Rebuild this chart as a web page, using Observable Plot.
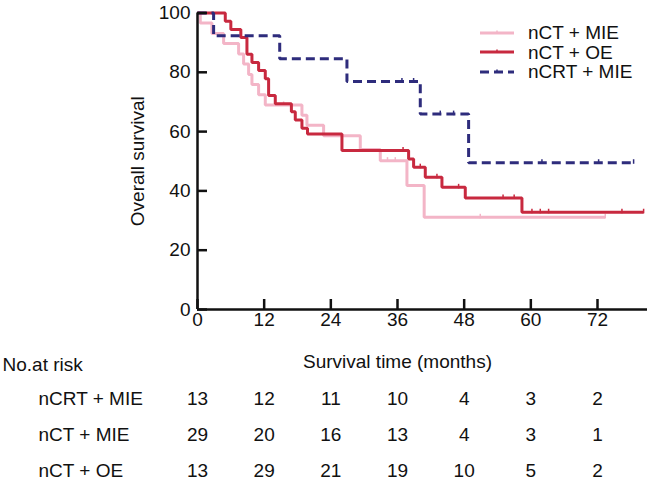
<!DOCTYPE html>
<html>
<head>
<meta charset="utf-8">
<script src="https://cdn.jsdelivr.net/npm/d3@7"></script>
<script src="https://cdn.jsdelivr.net/npm/@observablehq/plot@0.6"></script>
<style>
  html, body { margin: 0; padding: 0; background: #fff; }
  body { width: 647px; height: 485px; position: relative; overflow: hidden;
         font-family: "Liberation Sans", Arial, Helvetica, sans-serif; color: #111; }
  #legend { position: absolute; left: 480px; top: 23px; font-size: 19px; line-height: 19.5px; }
  #legend .row { display: flex; align-items: center; height: 19.5px; white-space: nowrap; }
  #legend svg { width: 34px; height: 10px; margin-right: 14px; }
  #chart svg, #table svg { display: block; }
</style>
</head>
<body>
<div id="chart"></div>
<div id="table"></div>
<div id="legend"></div>
<script>
// ---- data ----
const groups = ["nCRT + MIE", "nCT + MIE", "nCT + OE"];
const colors = ["#2e2c7c", "#f3b5c7", "#c8293f"];
const timeTicks = [0, 12, 24, 36, 48, 60, 72];
const survTicks = [0, 20, 40, 60, 80, 100];

// nCRT + MIE
const crtMieTimes = [0, 2.9, 14.8, 26.9, 40.1, 48.8, 78.5];
const crtMieSurv  = [100, 92.3, 84.6, 76.9, 65.9, 49.5, 49.5];
const crtMieCensor = [36.8, 38.9, 43.7, 46.1, 62.0, 72.2, 78.5];

// nCT + MIE
const ctMieTimes = [0, 0.5, 2.6, 4.7, 7.4, 8.3, 9.2, 9.8, 11.0, 12.2, 18.8, 19.7, 22.7, 29.3, 32.9, 37.7, 40.8, 73.4];
const ctMieSurv  = [100, 96.6, 93.1, 89.7, 86.2, 82.8, 79.3, 75.9, 72.4, 69.0, 65.5, 62.1, 58.6, 54.0, 50.2, 41.8, 31.1, 31.1];
const ctMieCensor = [15.5, 34.2, 35.6, 50.9, 73.4];

// nCT + OE
const ctOeTimes = [0, 5.0, 6.0, 7.8, 8.9, 9.8, 11.0, 12.2, 12.8, 14.0, 16.9, 17.6, 18.8, 19.8, 26.0, 38.0, 38.9, 41.0, 44.0, 48.2, 58.4, 80.3];
const ctOeSurv  = [100, 97.2, 94.4, 91.7, 86.1, 83.3, 80.6, 77.8, 72.2, 69.4, 66.7, 63.9, 61.1, 59.2, 53.6, 50.8, 48.0, 44.6, 41.2, 37.6, 32.8, 32.8];
const ctOeCensor = [37.0, 40.1, 43.1, 47.0, 55.0, 57.0, 60.2, 61.7, 63.2, 76.4, 80.3];

// number at risk
const riskCrtMie = [13, 12, 11, 10, 4, 3, 2];
const riskCtMie  = [29, 20, 16, 13, 4, 3, 1];
const riskCtOe   = [13, 29, 21, 19, 10, 5, 2];

// ---- build tables ----
function curve(group, times, surv) {
  return times.map((t, i) => ({group, time: t, surv: surv[i]}));
}
function stepAt(times, surv, t) {
  let v = surv[0];
  for (let i = 0; i < times.length; i++) if (times[i] <= t) v = surv[i];
  return v;
}
function censors(group, times, surv, cens) {
  return cens.map(t => ({group, time: t, surv: stepAt(times, surv, t)}));
}
const curves = [
  ["nCT + MIE", ctMieTimes, ctMieSurv, ctMieCensor],
  ["nCT + OE", ctOeTimes, ctOeSurv, ctOeCensor],
  ["nCRT + MIE", crtMieTimes, crtMieSurv, crtMieCensor]
];
const lineData = curves.map(([g, t, s]) => curve(g, t, s));
const censorData = curves.map(([g, t, s, c]) => censors(g, t, s, c));
const riskRows = [];
[riskCrtMie, riskCtMie, riskCtOe].forEach((arr, gi) =>
  arr.forEach((n, i) => riskRows.push({group: groups[gi], time: timeTicks[i], n})));

const colorOf = g => colors[groups.indexOf(g)];
const tickSymbol = {draw(ctx, size) { const r = Math.sqrt(size / Math.PI); ctx.moveTo(0, -r); ctx.lineTo(0, r * 0.3); }};

const font = '"Liberation Sans", Arial, Helvetica, sans-serif';
const xDomain = [0, 81];

const marks = [];
lineData.forEach((d, i) => {
  const g = d[0].group;
  marks.push(Plot.line(d, {x: "time", y: "surv", curve: "step-after", stroke: colorOf(g),
    strokeWidth: 3, strokeDasharray: g === "nCRT + MIE" ? "9,5" : null, strokeLinejoin: "miter", strokeLinecap: "butt"}));
  marks.push(Plot.dot(censorData[i], {x: "time", y: "surv", symbol: tickSymbol, r: 3.5, stroke: colorOf(g), strokeWidth: 1.5, fill: "none"}));
});

const chart = Plot.plot({
  width: 647, height: 340,
  marginLeft: 197, marginRight: 0, marginTop: 12.5, marginBottom: 31,
  style: {fontFamily: font, fontSize: "19px", color: "#111", background: "#fff"},
  x: {domain: xDomain},
  y: {domain: [0, 100]},
  marks: [
    ...marks,
    Plot.ruleY([0], {strokeWidth: 2.5}),
    Plot.ruleX([0], {strokeWidth: 2.5}),
    Plot.axisY(survTicks, {tickSize: -10, tickPadding: 17, strokeWidth: 2.5, fontSize: 19, label: null}),
    Plot.axisX(timeTicks, {tickSize: -10, tickPadding: 13, strokeWidth: 2.5, fontSize: 19, label: null}),
    Plot.text(["Overall survival"], {frameAnchor: "left", textAnchor: "middle", rotate: -90, dx: -60, fontSize: 19})
  ]
});
document.getElementById("chart").appendChild(chart);

const table = Plot.plot({
  width: 647, height: 145,
  marginLeft: 197, marginRight: 0, marginTop: 21, marginBottom: 14,
  style: {fontFamily: font, fontSize: "19px", color: "#111", background: "#fff"},
  x: {domain: xDomain, axis: null},
  y: {type: "point", domain: ["header", ...groups], axis: null, padding: 0},
  marks: [
    Plot.text(["No.at risk"], {y: () => "header", frameAnchor: "left", dx: -195, dy: 2, textAnchor: "start", fontSize: 19}),
    Plot.text(["Survival time (months)"], {x: () => 36, y: () => "header", dy: -1, fontSize: 19}),
    Plot.text(groups, {y: d => d, frameAnchor: "left", dx: -159, textAnchor: "start", fontSize: 19}),
    Plot.text(riskRows, {x: "time", y: "group", text: d => String(d.n), fontSize: 19})
  ]
});
document.getElementById("table").appendChild(table);

// legend
const legendOrder = ["nCT + MIE", "nCT + OE", "nCRT + MIE"];
const legend = document.getElementById("legend");
legendOrder.forEach(g => {
  const row = document.createElement("div");
  row.className = "row";
  const dash = g === "nCRT + MIE" ? 'stroke-dasharray="9,5"' : "";
  row.innerHTML = `<svg viewBox="0 0 34 10"><line x1="0" y1="5" x2="34" y2="5" stroke="${colorOf(g)}" stroke-width="3" ${dash}/><line x1="17" y1="2.5" x2="17" y2="6" stroke="${colorOf(g)}" stroke-width="1.5"/></svg><span>${g}</span>`;
  legend.appendChild(row);
});
</script>
</body>
</html>
